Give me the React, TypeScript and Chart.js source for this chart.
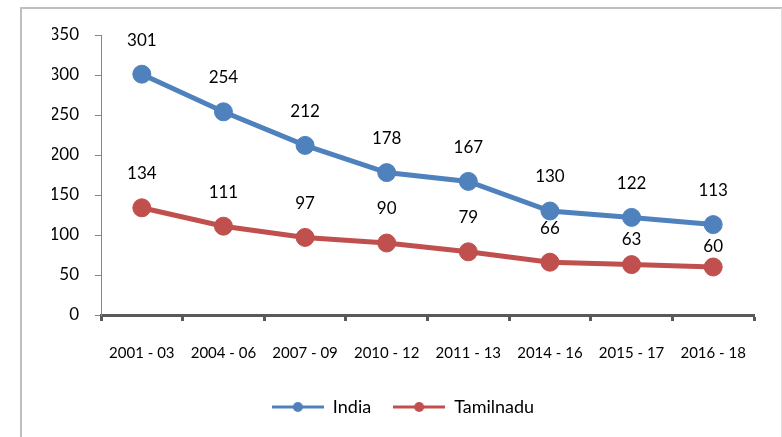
import React, { useEffect, useRef } from "react";
import { Chart, registerables } from "chart.js";

Chart.register(...registerables);

const categories = ["2001 - 03", "2004 - 06", "2007 - 09", "2010 - 12", "2011 - 13", "2014 - 16", "2015 - 17", "2016 - 18"];
const india = [301, 254, 212, 178, 167, 130, 122, 113];
const tamilnadu = [134, 111, 97, 90, 79, 66, 63, 60];
const yTicks = [0, 50, 100, 150, 200, 250, 300, 350];

const INDIA_COLOR = "#4F81BD";
const TN_COLOR = "#C0504D";
const FONT = "Lato, 'Open Sans', sans-serif";

function legendIcon(color: string): HTMLCanvasElement {
  const c = document.createElement("canvas");
  c.width = 52;
  c.height = 12;
  const ctx = c.getContext("2d")!;
  ctx.strokeStyle = color;
  ctx.lineWidth = 3;
  ctx.beginPath();
  ctx.moveTo(0, 6);
  ctx.lineTo(52, 6);
  ctx.stroke();
  ctx.fillStyle = color;
  ctx.beginPath();
  ctx.arc(26, 6, 5, 0, Math.PI * 2);
  ctx.fill();
  return c;
}

const framePlugin = {
  id: "frame",
  beforeDraw(chart: any) {
    const ctx = chart.ctx;
    ctx.save();
    ctx.fillStyle = "#ffffff";
    ctx.fillRect(0, 0, chart.width, chart.height);
    ctx.strokeStyle = "#bfbfbf";
    ctx.lineWidth = 2;
    ctx.beginPath();
    ctx.moveTo(21, chart.height);
    ctx.lineTo(21, 8);
    ctx.lineTo(chart.width, 8);
    ctx.stroke();
    ctx.strokeStyle = "#e0e0e0";
    ctx.lineWidth = 1;
    ctx.beginPath();
    ctx.moveTo(781.5, 8);
    ctx.lineTo(781.5, chart.height);
    ctx.stroke();
    ctx.restore();
  },
};

const LABEL_OFFSET = 34;
const LABEL_HALF = 7;

const labelPlugin = {
  id: "valueLabels",
  afterDatasetsDraw(chart: any) {
    const ctx = chart.ctx;
    ctx.save();
    ctx.font = `17px ${FONT}`;
    ctx.fillStyle = "#000000";
    ctx.textAlign = "center";
    ctx.textBaseline = "middle";
    const metas = chart.data.datasets.map((_: any, i: number) => chart.getDatasetMeta(i));
    chart.data.datasets.forEach((ds: any, i: number) => {
      metas[i].data.forEach((pt: any, j: number) => {
        let y = pt.y - LABEL_OFFSET;
        // avoid overlapping another series' marker above this point
        metas.forEach((m: any, k: number) => {
          if (k === i) return;
          const other = m.data[j];
          if (!other || other.y > pt.y) return;
          const r = other.options.radius;
          if (y - LABEL_HALF < other.y + r && y + LABEL_HALF > other.y - r) {
            y = other.y + r + 13;
          }
        });
        ctx.fillText(String(ds.data[j]), pt.x, y);
      });
    });
    ctx.restore();
  },
};

export default function App() {
  const ref = useRef<HTMLCanvasElement>(null);
  useEffect(() => {
    document.body.style.margin = "0";
    const chart = new Chart(ref.current!, {
      type: "line",
      data: {
        labels: categories,
        datasets: [
          {
            label: "India",
            data: india,
            borderColor: INDIA_COLOR,
            backgroundColor: INDIA_COLOR,
            borderWidth: 5,
            pointRadius: 9,
            pointBorderWidth: 1,
            pointBackgroundColor: INDIA_COLOR,
            pointBorderColor: INDIA_COLOR,
            tension: 0,
          },
          {
            label: "Tamilnadu",
            data: tamilnadu,
            borderColor: TN_COLOR,
            backgroundColor: TN_COLOR,
            borderWidth: 5,
            pointRadius: 9,
            pointBorderWidth: 1,
            pointBackgroundColor: TN_COLOR,
            pointBorderColor: TN_COLOR,
            tension: 0,
          },
        ],
      },
      options: {
        responsive: false,
        animation: false,
        layout: { padding: { left: 52, right: 28, top: 35, bottom: 11 } },
        plugins: {
          tooltip: { enabled: false },
          legend: {
            position: "bottom",
            labels: {
              usePointStyle: true,
              pointStyleWidth: 52,
              boxHeight: 12,
              padding: 22,
              color: "#000",
              font: { family: FONT, size: 18 },
              generateLabels: (chart: any) =>
                chart.data.datasets.map((ds: any, i: number) => ({
                  text: ds.label,
                  pointStyle: legendIcon(ds.borderColor),
                  fillStyle: ds.borderColor,
                  strokeStyle: ds.borderColor,
                  lineWidth: 0,
                  hidden: false,
                  datasetIndex: i,
                  fontColor: "#000",
                })),
            },
          },
        },
        scales: {
          x: {
            offset: true,
            grid: {
              offset: true,
              drawOnChartArea: false,
              tickLength: 6,
              tickWidth: 3,
              color: "#595959",
            },
            border: { display: true, color: "#595959", width: 3 },
            ticks: {
              color: "#000",
              padding: 23,
              maxRotation: 0,
              autoSkip: false,
              font: { family: FONT, size: 15 },
            },
            afterFit: (s: any) => {
              s.height = 61;
            },
          },
          y: {
            min: 0,
            max: 350,
            afterBuildTicks: (s: any) => {
              s.ticks = yTicks.map((v) => ({ value: v }));
            },
            grid: {
              drawOnChartArea: false,
              tickLength: 6,
              color: "#868686",
            },
            border: { display: true, color: "#868686", width: 1 },
            ticks: {
              color: "#000",
              padding: 16,
              font: { family: FONT, size: 17 },
            },
            afterFit: (s: any) => {
              s.width = 49;
            },
          },
        },
      },
      plugins: [framePlugin, labelPlugin],
    });
    return () => chart.destroy();
  }, []);
  return <canvas ref={ref} width={782} height={437} style={{ display: "block" }} />;
}
